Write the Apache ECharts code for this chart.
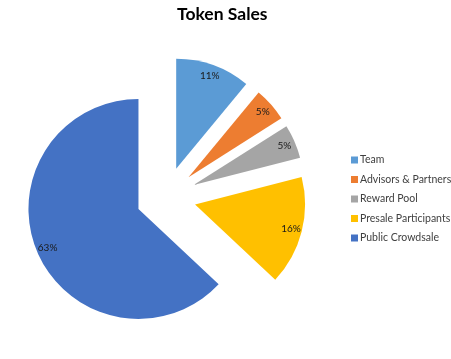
<!DOCTYPE html>
<html><head><meta charset="utf-8">
<script src="https://cdn.jsdelivr.net/npm/echarts@6/dist/echarts.min.js"></script>
<style>html,body{margin:0;padding:0;background:#fff}#c{width:451px;height:359px}</style>
</head><body><div id="c"></div>
<script>
var categories = ["Team", "Advisors & Partners", "Reward Pool", "Presale Participants", "Public Crowdsale"];
var values = [11, 5, 5, 16, 63];
var colors = ["#5B9BD5", "#ED7D31", "#A5A5A5", "#FFC000", "#4472C4"];

var chart = echarts.init(document.getElementById('c'), null, {renderer: 'canvas'});
function mk(visible) {
  return categories.map(function (n, i) {
    return {name: n, value: values[i], selected: true,
      itemStyle: {color: visible ? colors[i] : 'rgba(0,0,0,0)'}};
  });
}
var center = [166, 197];
chart.setOption({
  animation: false,
  title: {text: 'Token Sales', left: 172, top: 0,
    textStyle: {fontFamily: 'Lato', fontWeight: 'bold', fontSize: 17.5, color: '#000'}},
  legend: {orient: 'vertical', left: 346, top: 149, itemWidth: 7, itemHeight: 7, itemGap: 7.5,
    icon: 'rect', data: categories, selectedMode: false,
    textStyle: {fontFamily: 'Lato', fontSize: 10.5, color: '#404040', padding: [0, 0, 0, -3], lineHeight: 12}},
  series: [
    {type: 'pie', center: center, radius: 110, startAngle: 90, clockwise: true,
      selectedMode: 'multiple', selectedOffset: 30, silent: true,
      label: {show: false}, labelLine: {show: false}, emphasis: {disabled: true},
      data: mk(true)},
    {type: 'pie', center: center, radius: 192, startAngle: 90, clockwise: true,
      selectedMode: 'multiple', selectedOffset: 30, silent: true, z: 3,
      label: {show: true, position: 'inside', formatter: '{c}%', fontFamily: 'Lato', fontSize: 10, color: '#1a1a1a'},
      labelLine: {show: false}, emphasis: {disabled: true},
      data: mk(false)}
  ]
});
</script></body></html>
